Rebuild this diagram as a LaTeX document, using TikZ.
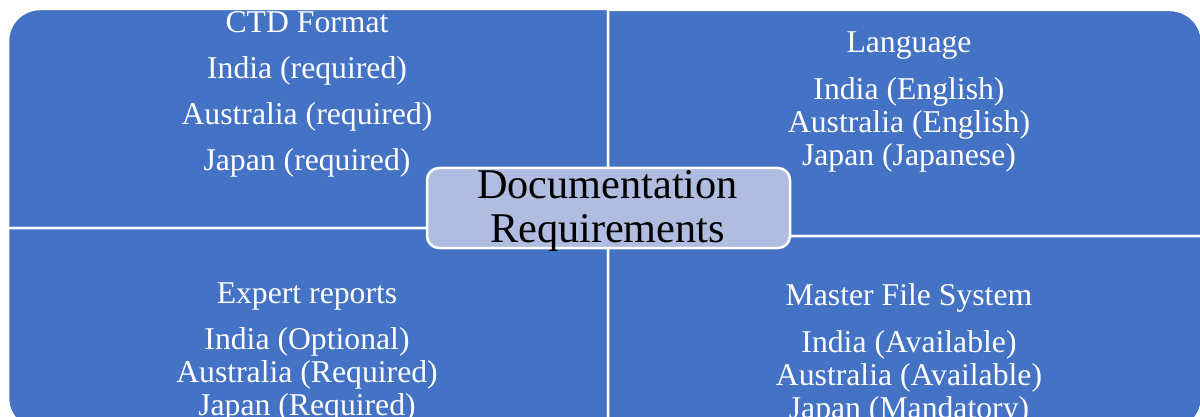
\documentclass[tikz,border=0pt]{standalone}
\usepackage{fontspec}
\setmainfont{Liberation Serif}
\definecolor{quadblue}{HTML}{4472C4}
\definecolor{hubfill}{RGB}{176,189,225}
\tikzset{
  quad/.style={fill=quadblue, draw=white, line width=2.5pt, line join=miter},
  qtext/.style={text=white, font=\fontsize{31.7}{33}\selectfont, anchor=base, inner sep=0pt},
  hubbox/.style={fill=hubfill, draw=white, line width=2.5pt, rounded corners=12pt,
    minimum width=363pt, minimum height=80pt, inner sep=0pt},
  hubtext/.style={text=black, font=\fontsize{42.3}{44}\selectfont, anchor=base, inner sep=0pt},
}
\begin{document}
\begin{tikzpicture}[x=1pt,y=-1pt]
\useasboundingbox (0,0) rectangle (1200,417);
\clip (0,0) rectangle (1200,417);

% four quadrants, each rounded only at its outer corner
\path[quad] (608,228) -- (8,228) -- (8,41)
  arc[start angle=180, end angle=270, radius=32] -- (608,9) -- cycle;
\path[quad] (608,10) -- (1170,10)
  arc[start angle=270, end angle=360, radius=32] -- (1202,236) -- (608,236) -- cycle;
\path[quad] (8,228) -- (608,228) -- (608,430) -- (40,430)
  arc[start angle=90, end angle=180, radius=32] -- cycle;
\path[quad] (608,236) -- (1202,236) -- (1202,398)
  arc[start angle=0, end angle=90, radius=32] -- (608,430) -- cycle;

% top left: CTD format
\node[qtext] (ctd)   at (307,33)  {CTD Format};
\node[qtext] (ctd1)  at (307,79)  {India (required)};
\node[qtext] (ctd2)  at (307,125) {Australia (required)};
\node[qtext] (ctd3)  at (307,171) {Japan (required)};

% top right: language
\node[qtext] (lang)  at (909,53)  {Language};
\node[qtext] (lang1) at (909,100) {India (English)};
\node[qtext] (lang2) at (909,133) {Australia (English)};
\node[qtext] (lang3) at (909,166) {Japan (Japanese)};

% bottom left: expert reports
\node[qtext] (exp)   at (307,303) {Expert reports};
\node[qtext] (exp1)  at (307,349) {India (Optional)};
\node[qtext] (exp2)  at (307,382) {Australia (Required)};
\node[qtext] (exp3)  at (307,415) {Japan (Required)};

% bottom right: master file system
\node[qtext] (mfs)   at (909,305) {Master File System};
\node[qtext] (mfs1)  at (909,352) {India (Available)};
\node[qtext] (mfs2)  at (909,385) {Australia (Available)};
\node[qtext] (mfs3)  at (909,418) {Japan (Mandatory)};

% central hub
\node[hubbox] (hub) at (608.5,208) {};
\node[hubtext] (hubl1) at (607.5,198) {Documentation};
\node[hubtext] (hubl2) at (607.5,242) {Requirements};
\end{tikzpicture}
\end{document}
